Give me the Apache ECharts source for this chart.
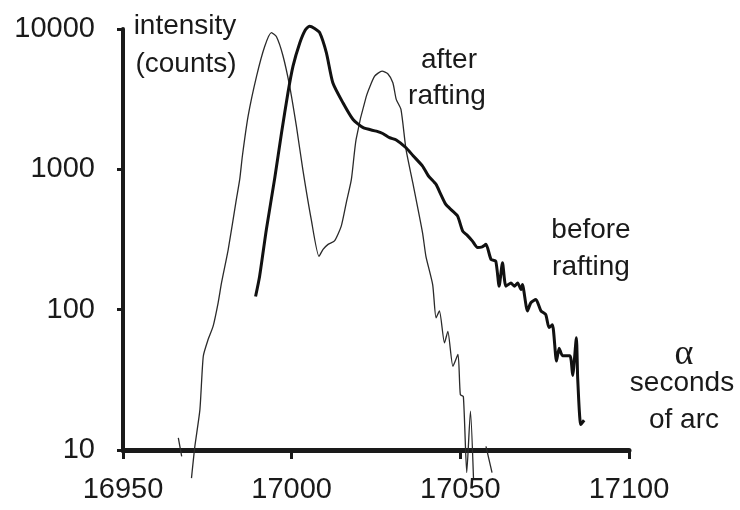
<!DOCTYPE html>
<html>
<head>
<meta charset="utf-8">
<script src="https://cdn.jsdelivr.net/npm/echarts@6/dist/echarts.min.js"></script>
<style>
html,body{margin:0;padding:0;background:#fff;}
#chart{width:740px;height:510px;}
</style>
</head>
<body>
<div id="chart"></div>
<script>
// x ticks and y ticks
var xTicks = [16950, 17000, 17050, 17100];
var yTicks = [10, 100, 1000, 10000];

// "after rafting" curve (thin); null = gap in trace
var afterAngle = [16966.4, 16967.4, 16968.5,
  16970.3, 16971.3, 16972.8, 16973.8, 16975.2, 16976.7, 16978.2, 16979.2, 16981.2, 16983.6, 16984.6, 16985.4,
  16987.1, 16989.6, 16992.0, 16994.0, 16995.5, 16997.4, 16999.4, 17001.4, 17003.3, 17005.8, 17008.1, 17009.3,
  17010.8, 17012.7, 17014.7, 17016.2, 17017.7, 17019.1, 17022.1, 17024.6, 17026.8, 17028.5, 17030.0, 17031.0,
  17032.4, 17033.9, 17035.9, 17038.8, 17039.8, 17041.8, 17042.8, 17043.8, 17045.3, 17046.3, 17047.8, 17049.3,
  17050.0, 17050.9, 17051.9, 17053.0, 17053.9, 17055.5,
  17057.6, 17059.4];
var afterCounts = [12.2, 9.0, null,
  6.3, 10.6, 19.4, 46.6, 61, 76, 112, 155, 269, 610, 847, 1250,
  2400, 4610, 7500, 9420, 8800, 6470, 3920, 2030, 1000, 440, 240, 269,
  292, 309, 394, 580, 847, 1633, 3300, 4610, 5010, 4800, 4140, 3150,
  2670, 1387, 803, 353, 240, 151, 87.5, 98, 58, 70, 39.5, 48,
  24.8, 24, 6.9, 18.9, 6.3, null,
  10.6, 6.9];

// "before rafting" curve (thick)
var beforeAngle = [16989.3, 16990.5, 16992.5, 16995.0, 16997.0, 16998.9, 17000.4, 17002.4, 17004.0, 17005.3,
  17006.8, 17008.3, 17010.3, 17012.2, 17015.2, 17018.2, 17021.2, 17025.1, 17027.0, 17029.0, 17031.0, 17033.9,
  17036.0, 17038.8, 17040.5, 17042.8, 17044.0, 17045.7, 17047.5, 17049.2, 17050.7, 17052.0, 17053.6, 17055.1,
  17056.5, 17057.6, 17059.1, 17060.5, 17061.5, 17062.5, 17063.5, 17065.0, 17066.0, 17067.0, 17068.0, 17068.4,
  17069.9, 17070.9, 17072.4, 17073.9, 17075.3, 17076.3, 17077.3, 17078.5, 17079.3, 17080.3, 17082.5, 17083.3,
  17084.4, 17084.8, 17085.7, 17086.7];
var beforeCounts = [124, 173, 373, 870, 1820, 3510, 5430, 7940, 9800, 10480,
  10100, 9420, 6760, 4140, 2980, 2265, 1980, 1870, 1800, 1680, 1620, 1425,
  1250, 1055, 900, 780, 680, 562, 510, 464, 363, 340, 308, 277,
  280, 292, 228, 222, 147, 216, 147, 155, 147, 155, 139, 151,
  98, 112, 118, 98, 92.5, 74.5, 78, 43, 53, 47, 47, 34,
  63, 32, 15.2, 16.3];

function pairs(xs, ys) {
  return xs.map(function (x, i) { return [x, ys[i] === null ? '-' : ys[i]]; });
}

var FONT = '"Liberation Sans", Arial, sans-serif';
var INK = '#1a1a1a';

var chart = echarts.init(document.getElementById('chart'), null, {renderer: 'canvas'});
function txt(s, x, y, size, family) {
  return {type: 'text', x: x, y: y, z: 10,
    style: {text: s, fill: INK, font: size + 'px ' + (family || FONT), align: 'center', verticalAlign: 'middle'}};
}
chart.setOption({
  animation: false,
  backgroundColor: '#fff',
  grid: {left: 123, right: 111, top: 29, bottom: 60, containLabel: false},
  xAxis: {
    type: 'value', min: xTicks[0], max: xTicks[xTicks.length - 1], interval: 50,
    axisLine: {onZero: false, lineStyle: {color: INK, width: 5}},
    axisTick: {show: true, inside: false, length: 9, lineStyle: {color: INK, width: 3}},
    splitLine: {show: false},
    axisLabel: {color: INK, fontSize: 29, fontFamily: FONT, margin: 25,
      formatter: function (v) { return String(v); }}
  },
  yAxis: {
    type: 'log', logBase: 10, min: yTicks[0], max: yTicks[yTicks.length - 1],
    axisLine: {lineStyle: {color: INK, width: 4}},
    axisTick: {show: true, inside: false, length: 6, lineStyle: {color: INK, width: 3}},
    splitLine: {show: false},
    minorTick: {show: false},
    axisLabel: {color: INK, fontSize: 29, fontFamily: FONT, margin: 28,
      formatter: function (v) { return String(Math.round(v)); }}
  },
  series: [
    {
      name: 'after rafting', type: 'line', data: pairs(afterAngle, afterCounts),
      showSymbol: false, symbol: 'none', clip: false, connectNulls: false, smooth: 0.2,
      lineStyle: {color: '#2a2a2a', width: 1.3}, z: 3
    },
    {
      name: 'before rafting', type: 'line', data: pairs(beforeAngle, beforeCounts),
      showSymbol: false, symbol: 'none', clip: false, smooth: 0.2,
      lineStyle: {color: '#111', width: 3}, z: 4
    }
  ],
  graphic: [
    txt('intensity', 185, 26, 28),
    txt('(counts)', 186, 64, 28),
    txt('after', 449, 60, 28),
    txt('rafting', 447, 96, 28),
    txt('before', 591, 230, 28),
    txt('rafting', 591, 267, 28),
    txt('\u03b1', 684, 355, 36, '"Liberation Serif", "Times New Roman", serif'),
    txt('seconds', 682, 383, 28),
    txt('of arc', 684, 420, 28)
  ]
});
</script>
</body>
</html>
